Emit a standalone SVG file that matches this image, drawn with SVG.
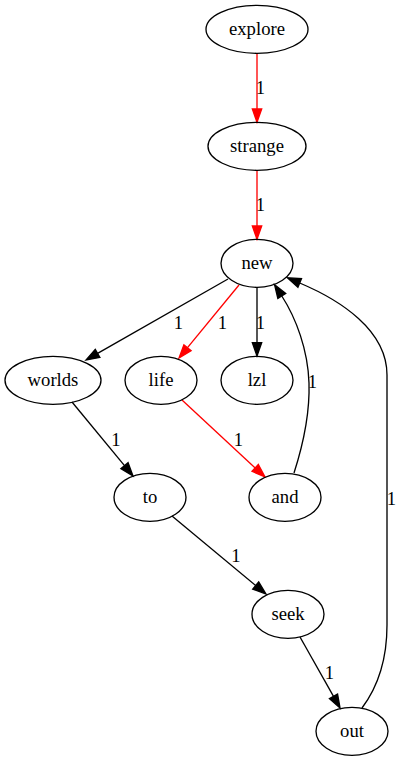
<svg xmlns="http://www.w3.org/2000/svg" width="402" height="761" viewBox="0 0 402 761" font-family="'Liberation Serif', 'Times New Roman', serif" font-size="18.67">
<style>
ellipse.n{fill:none;stroke:#000;stroke-width:1.33}
text.t{font-family:'Liberation Serif','Times New Roman',serif;font-size:18.67px;text-anchor:middle;fill:#000}
.e{fill:none;stroke-width:1.33}
.blk{stroke:#000}
.red{stroke:#ff0000}
</style>
<defs>
<marker id="ab" markerUnits="userSpaceOnUse" markerWidth="14" markerHeight="10" refX="0" refY="4.67" orient="auto" viewBox="0 0 14 10" overflow="visible"><polygon points="0,0 13.33,4.67 0,9.33" fill="#000" stroke="#000" stroke-width="1.33"/></marker>
<marker id="ar" markerUnits="userSpaceOnUse" markerWidth="14" markerHeight="10" refX="0" refY="4.67" orient="auto" viewBox="0 0 14 10" overflow="visible"><polygon points="0,0 13.33,4.67 0,9.33" fill="#ff0000" stroke="#ff0000" stroke-width="1.33"/></marker>
</defs>
<g id="edges">
<path class="e red" d="M257,53.3 L257,109" marker-end="url(#ar)"/>
<text class="t" x="260.5" y="94">1</text>
<path class="e red" d="M257,170.3 L257,226" marker-end="url(#ar)"/>
<text class="t" x="260.5" y="211">1</text>
<path class="e blk" d="M228,279 L97.6,353.4" marker-end="url(#ab)"/>
<text class="t" x="178.5" y="329">1</text>
<path class="e red" d="M239,285 L187.5,347.7" marker-end="url(#ar)"/>
<text class="t" x="222.5" y="329">1</text>
<path class="e blk" d="M257,287.3 L257,342.7" marker-end="url(#ab)"/>
<text class="t" x="260.5" y="329">1</text>
<path class="e blk" d="M72,402 L124.5,465.7" marker-end="url(#ab)"/>
<text class="t" x="116" y="446">1</text>
<path class="e red" d="M182,400 L255.2,467.9" marker-end="url(#ar)"/>
<text class="t" x="238.5" y="446">1</text>
<path class="e blk" d="M172,516 L255.7,585.5" marker-end="url(#ab)"/>
<text class="t" x="236" y="562">1</text>
<path class="e blk" d="M300,637 L333.5,696.4" marker-end="url(#ab)"/>
<text class="t" x="329.5" y="679">1</text>
<path class="e blk" d="M294,473 C303,445 310,415 309,383 C308,350 296,318 281.8,296" marker-end="url(#ab)"/>
<text class="t" x="312.5" y="388">1</text>
<path class="e blk" d="M362,708 C377,688 387,660 387,625 L387,375 C387,330 340,300 299.7,283" marker-end="url(#ab)"/>
<text class="t" x="391.5" y="505">1</text>
</g>
<g id="explore"><ellipse class="n" cx="257" cy="29.3" rx="51" ry="24"/><text class="t" x="257" y="35">explore</text></g>
<g id="strange"><ellipse class="n" cx="257" cy="146.3" rx="49" ry="24"/><text class="t" x="257" y="152">strange</text></g>
<g id="new"><ellipse class="n" cx="257" cy="263.3" rx="36" ry="24"/><text class="t" x="257" y="269">new</text></g>
<g id="worlds"><ellipse class="n" cx="53" cy="380.3" rx="48" ry="24"/><text class="t" x="53" y="386">worlds</text></g>
<g id="life"><ellipse class="n" cx="161" cy="380.3" rx="36" ry="24"/><text class="t" x="161" y="386">life</text></g>
<g id="lzl"><ellipse class="n" cx="257" cy="380.3" rx="36" ry="24"/><text class="t" x="257" y="386">lzl</text></g>
<g id="to"><ellipse class="n" cx="150" cy="497.3" rx="36" ry="24"/><text class="t" x="150" y="503">to</text></g>
<g id="and"><ellipse class="n" cx="285" cy="497.3" rx="36" ry="24"/><text class="t" x="285" y="503">and</text></g>
<g id="seek"><ellipse class="n" cx="288" cy="614.3" rx="36" ry="24"/><text class="t" x="288" y="620">seek</text></g>
<g id="out"><ellipse class="n" cx="352" cy="731.3" rx="36" ry="24"/><text class="t" x="352" y="737">out</text></g>
</svg>
